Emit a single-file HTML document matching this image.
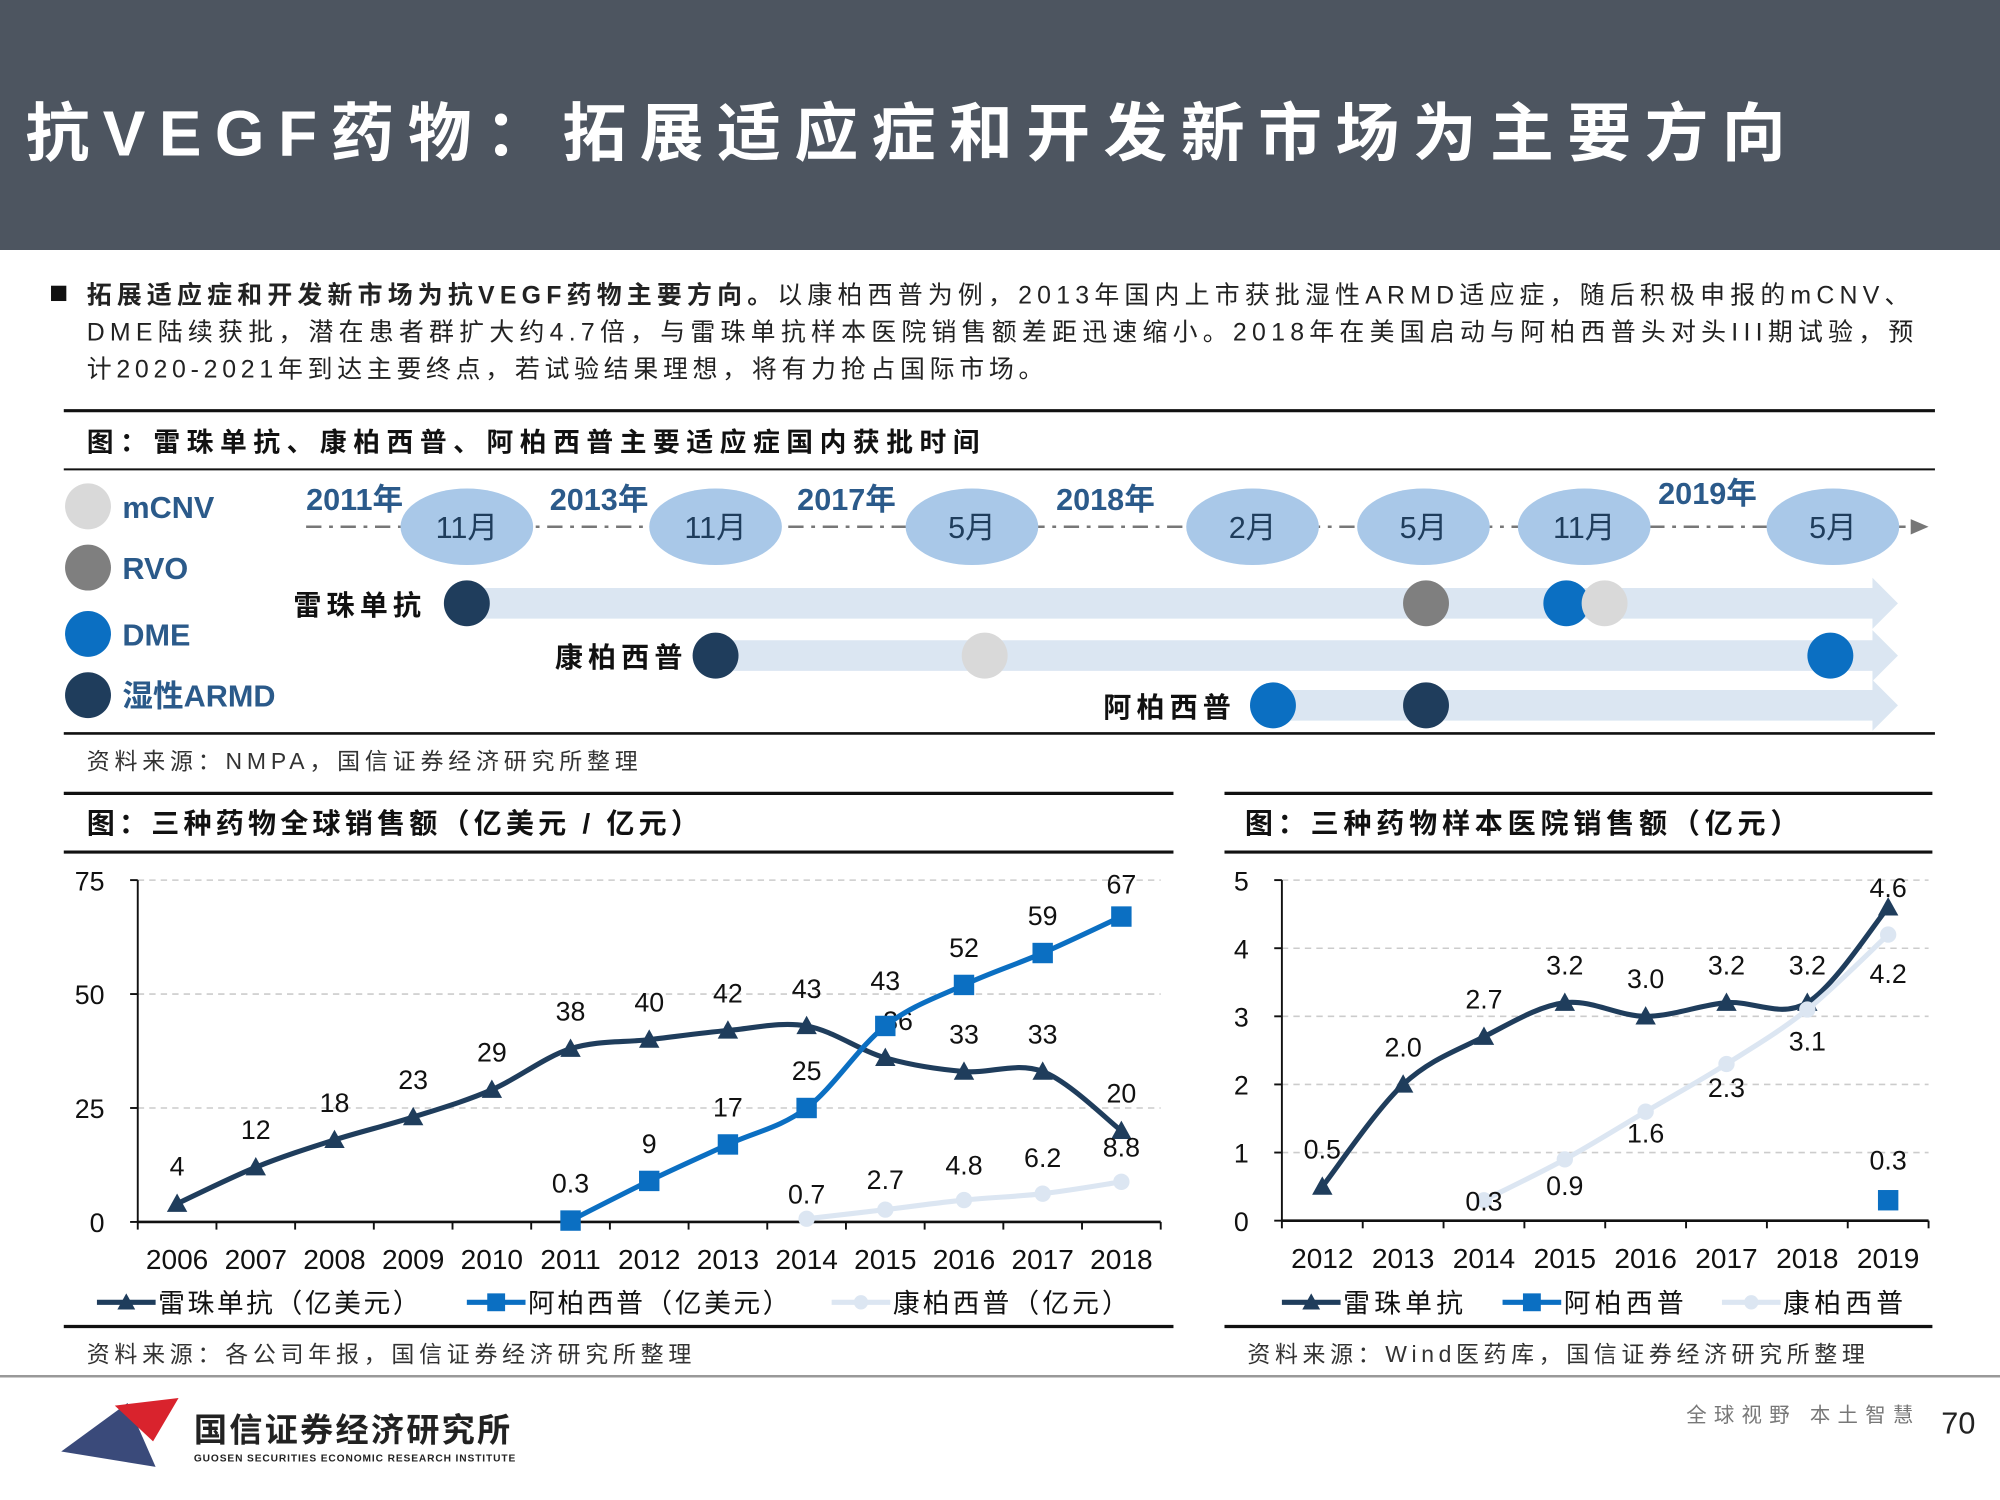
<!DOCTYPE html>
<html><head><meta charset="utf-8"><style>
html,body{margin:0;padding:0;background:#fff}
svg{display:block}
text{font-family:"Liberation Sans","Noto Sans CJK SC",sans-serif}
</style></head><body>
<svg id="root" width="2000" height="1500" viewBox="0 0 1568 1176" xmlns="http://www.w3.org/2000/svg">
<rect x="0" y="0" width="1568" height="196" fill="#4d5560"/>
<text x="20" y="122" font-size="50" font-weight="bold" fill="#fff" textLength="1380" lengthAdjust="spacing">抗VEGF药物：拓展适应症和开发新市场为主要方向</text>
<rect x="40" y="224" width="12" height="12" fill="#111"/>
<g font-size="19.5" fill="#222">
<text x="68" y="238" textLength="1429" lengthAdjust="spacing"><tspan font-weight="bold">拓展适应症和开发新市场为抗VEGF药物主要方向。</tspan>以康柏西普为例，2013年国内上市获批湿性ARMD适应症，随后积极申报的mCNV、</text>
<text x="68" y="267" textLength="1432" lengthAdjust="spacing">DME陆续获批，潜在患者群扩大约4.7倍，与雷珠单抗样本医院销售额差距迅速缩小。2018年在美国启动与阿柏西普头对头III期试验，预</text>
<text x="68" y="296" textLength="750" lengthAdjust="spacing">计2020-2021年到达主要终点，若试验结果理想，将有力抢占国际市场。</text>
</g>
<!-- timeline -->
<line x1="50" y1="322" x2="1517" y2="322" stroke="#111" stroke-width="2.5"/>
<text x="68" y="354" font-size="21" font-weight="bold" fill="#111" textLength="700" lengthAdjust="spacing">图：雷珠单抗、康柏西普、阿柏西普主要适应症国内获批时间</text>
<line x1="50" y1="368" x2="1517" y2="368" stroke="#111" stroke-width="1.5"/>
<line x1="240" y1="413" x2="1500" y2="413" stroke="#777" stroke-width="2" stroke-dasharray="12,6,3,6"/>
<polygon points="1498,407 1512,413 1498,419" fill="#777"/>
<g id="tl" font-weight="bold" fill="#2b5a8a" font-size="24"></g>
<line x1="50" y1="575" x2="1517" y2="575" stroke="#111" stroke-width="2"/>
<text x="68" y="603" font-size="18" fill="#333" textLength="432" lengthAdjust="spacing">资料来源：NMPA，国信证券经济研究所整理</text>
<!-- chart frames -->
<line x1="50" y1="622" x2="920" y2="622" stroke="#111" stroke-width="2.5"/>
<line x1="50" y1="668" x2="920" y2="668" stroke="#111" stroke-width="2.5"/>
<line x1="50" y1="1040" x2="920" y2="1040" stroke="#111" stroke-width="2.5"/>
<text x="68" y="653" font-size="22" font-weight="bold" fill="#111" textLength="480" lengthAdjust="spacing">图：三种药物全球销售额（亿美元 / 亿元）</text>
<text x="68" y="1068" font-size="18" fill="#333" textLength="474" lengthAdjust="spacing">资料来源：各公司年报，国信证券经济研究所整理</text>
<line x1="960" y1="622" x2="1515" y2="622" stroke="#111" stroke-width="2.5"/>
<line x1="960" y1="668" x2="1515" y2="668" stroke="#111" stroke-width="2.5"/>
<line x1="960" y1="1040" x2="1515" y2="1040" stroke="#111" stroke-width="2.5"/>
<text x="976" y="653" font-size="22" font-weight="bold" fill="#111" textLength="434" lengthAdjust="spacing">图：三种药物样本医院销售额（亿元）</text>
<text x="978" y="1068" font-size="18" fill="#333" textLength="484" lengthAdjust="spacing">资料来源：Wind医药库，国信证券经济研究所整理</text>
<g id="c1"></g><g id="c2"></g>
<!-- footer -->
<line x1="0" y1="1079" x2="1568" y2="1079" stroke="#999" stroke-width="2"/>
<g>
<polygon points="48,1138 100,1100 122,1150" fill="#3a4a7a"/>
<polygon points="90,1102 140,1096 120,1130" fill="#d9232d"/>
<text x="152" y="1130" font-size="26" font-weight="bold" fill="#222" textLength="248" lengthAdjust="spacing">国信证券经济研究所</text>
<text x="152" y="1146" font-size="8" font-weight="bold" fill="#222" textLength="252" lengthAdjust="spacing">GUOSEN SECURITIES ECONOMIC RESEARCH INSTITUTE</text>
</g>
<text x="1322" y="1115" font-size="16" fill="#777" textLength="178" lengthAdjust="spacing">全球视野  本土智慧</text>
<text x="1522" y="1124" font-size="24" fill="#222">70</text>
</svg>
<script>
const NS="http://www.w3.org/2000/svg";
function mk(parent,tag,attrs,txt){const e=document.createElementNS(NS,tag);for(const k in attrs)e.setAttribute(k,attrs[k]);if(txt!==undefined)e.textContent=txt;parent.appendChild(e);return e;}

// ---------- timeline ----------
const tl=document.getElementById('tl');
const legendNames=['mCNV','RVO','DME','湿性ARMD'];
const legendColors=['#d9d9d9','#7f7f7f','#0b6fc2','#1f3d5c'];
legendNames.forEach((n,i)=>{const y=[397,445,497,545][i];
 const c=mk(tl,'circle',{cx:69,cy:y,r:18,fill:legendColors[i]});
 
 
 const t=mk(tl,'text',{x:96,y:y+9},n);
 
 });
const months=['11月','11月','5月','2月','5月','11月','5月'];
const monthX=[366,561,762,982,1116,1242,1437];
months.forEach((m,i)=>{const e=mk(tl,'ellipse',{cx:monthX[i],cy:413,rx:52,ry:30,fill:'#a9c8e8'});
 
 
 const t=mk(tl,'text',{x:monthX[i],y:422,'text-anchor':'middle','font-weight':'normal',fill:'#1f3d5c'},m);
 
 });
const years=['2011年','2013年','2017年','2018年','2019年'];
const yearX=[240,431,625,828,1300];
years.forEach((y,i)=>{const t=mk(tl,'text',{x:yearX[i],y:[400,400,400,400,395][i]},y);
 
 });
const rows=[{n:'雷珠单抗',lx:230,y:473,x0:366,dots:[[366,3],[1118,1],[1228,2],[1258,0]]},
 {n:'康柏西普',lx:435,y:514,x0:561,dots:[[561,3],[772,0],[1435,2]]},
 {n:'阿柏西普',lx:865,y:553,x0:998,dots:[[998,2],[1118,3]]}];
rows.forEach(r=>{
 const b=mk(tl,'polygon',{points:`${r.x0},${r.y-12} 1468,${r.y-12} 1468,${r.y-20} 1488,${r.y} 1468,${r.y+20} 1468,${r.y+12} ${r.x0},${r.y+12}`,fill:'#dbe6f2'});
 
 
 const t=mk(tl,'text',{x:r.lx,y:r.y+9,fill:'#111','font-size':22,textLength:100,lengthAdjust:'spacing'},r.n);
 
 
 r.dots.forEach(d=>{const c=mk(tl,'circle',{cx:d[0],cy:r.y,r:18,fill:legendColors[d[1]]});
  
  });
});

// ---------- chart data ----------
const years1=['2006','2007','2008','2009','2010','2011','2012','2013','2014','2015','2016','2017','2018'];
const ranibizumab1=[4,12,18,23,29,38,40,42,43,36,33,33,20];
const ranibizumab1Labels=['4','12','18','23','29','38','40','42','43','36','33','33','20'];
const aflibercept1=[null,null,null,null,null,0.3,9,17,25,43,52,59,67];
const aflibercept1Labels=['','','','','','0.3','9','17','25','43','52','59','67'];
const conbercept1=[null,null,null,null,null,null,null,null,0.7,2.7,4.8,6.2,8.8];
const conbercept1Labels=['','','','','','','','','0.7','2.7','4.8','6.2','8.8'];
const ticks1=[0,25,50,75];

const years2=['2012','2013','2014','2015','2016','2017','2018','2019'];
const ranibizumab2=[0.5,2.0,2.7,3.2,3.0,3.2,3.2,4.6];
const ranibizumab2Labels=['0.5','2.0','2.7','3.2','3.0','3.2','3.2','4.6'];
const aflibercept2=[null,null,null,null,null,null,null,0.3];
const aflibercept2Labels=['','','','','','','','0.3'];
const conbercept2=[null,null,0.3,0.9,1.6,2.3,3.1,4.2];
const conbercept2Labels=['','','0.3','0.9','1.6','2.3','3.1','4.2'];
const ticks2=[0,1,2,3,4,5];

const NAVY='#1f3d5c',BLUE='#0b6fc2',LIGHT='#dce6f2';

function smooth(pts){
 if(pts.length<2)return '';
 let d=`M${pts[0][0]},${pts[0][1]}`;
 for(let i=0;i<pts.length-1;i++){
  const p0=pts[i-1]||pts[i],p1=pts[i],p2=pts[i+1],p3=pts[i+2]||p2;
  const c1=[p1[0]+(p2[0]-p0[0])/6,p1[1]+(p2[1]-p0[1])/6];
  const c2=[p2[0]-(p3[0]-p1[0])/6,p2[1]-(p3[1]-p1[1])/6];
  d+=` C${c1[0]},${c1[1]} ${c2[0]},${c2[1]} ${p2[0]},${p2[1]}`;
 }
 return d;
}
function marker(g,type,x,y,color,s){
 let e;
 if(type==='tri')e=mk(g,'polygon',{points:`${x},${y-s} ${x-s},${y+s*0.8} ${x+s},${y+s*0.8}`,fill:color});
 else if(type==='sq')e=mk(g,'rect',{x:x-s,y:y-s,width:2*s,height:2*s,fill:color});
 else e=mk(g,'circle',{cx:x,cy:y,r:s*0.8,fill:color});
 
 
}

function chart(gid,cfg){
 const g=document.getElementById(gid);
 const n=cfg.cats.length,bw=(cfg.x1-cfg.x0)/n;
 const X=i=>cfg.x0+bw*(i+0.5);
 const Y=v=>cfg.y0-(v-cfg.min)/(cfg.max-cfg.min)*(cfg.y0-cfg.yTop);
 cfg.ticks.forEach(t=>{
  if(t>cfg.min){const l=mk(g,'line',{x1:cfg.x0,x2:cfg.x1,y1:Y(t),y2:Y(t),stroke:'#ccc','stroke-width':1.2,'stroke-dasharray':'5,4'});
   
   }
  mk(g,'line',{x1:cfg.x0-6,x2:cfg.x0,y1:Y(t),y2:Y(t),stroke:'#111','stroke-width':1.5});
  const tx=mk(g,'text',{x:cfg.x0-26,y:Y(t)+8,'font-size':21,fill:'#111','text-anchor':'end'},String(t));
  
  
 });
 const ya=mk(g,'line',{x1:cfg.x0,x2:cfg.x0,y1:cfg.yTop,y2:cfg.y0,stroke:'#111','stroke-width':1.5});
 
 
 const xa=mk(g,'line',{x1:cfg.x0,x2:cfg.x1,y1:cfg.y0,y2:cfg.y0,stroke:'#111','stroke-width':2});
 
 
 for(let i=0;i<=n;i++)mk(g,'line',{x1:cfg.x0+bw*i,x2:cfg.x0+bw*i,y1:cfg.y0,y2:cfg.y0+6,stroke:'#111','stroke-width':1.5});
 cfg.cats.forEach((c,i)=>{const t=mk(g,'text',{x:X(i),y:cfg.y0+37,'font-size':22,fill:'#111','text-anchor':'middle'},c);
  
  });
 cfg.series.forEach(s=>{
  const pts=[];s.vals.forEach((v,i)=>{if(v!==null)pts.push([X(i),Y(v),i]);});
  if(pts.length>1){const p=mk(g,'path',{d:smooth(pts),fill:'none',stroke:s.color,'stroke-width':4});
   
   }
  pts.forEach(p=>marker(g,s.mark,p[0],p[1],s.color,8));
  pts.forEach(p=>{const dx=(s.dx&&s.dx[p[2]])||0;const t=mk(g,'text',{x:X(p[2])+dx,y:p[1]+s.dy[p[2]],'font-size':21,fill:'#111','text-anchor':'middle'},s.labels[p[2]]);
   
   });
 });
 cfg.legend.forEach(L=>{
  const lg=mk(g,'g',{});
  
  
  mk(lg,'line',{x1:L.x,x2:L.x+46,y1:cfg.ly,y2:cfg.ly,stroke:L.color,'stroke-width':4});
  marker(lg,L.mark,L.x+23,cfg.ly,L.color,7);
  mk(lg,'text',{x:L.x+48,y:cfg.ly+8,'font-size':21,fill:'#111',textLength:L.w,lengthAdjust:'spacing'},L.text);
 });
}
const n1=years1.length;
chart('c1',{cats:years1,x0:108,x1:910,y0:958,yTop:690,min:0,max:75,ticks:ticks1,ly:1021,
 series:[
  {name:'ranibizumab',vals:ranibizumab1,labels:ranibizumab1Labels,color:NAVY,mark:'tri',dy:Array(n1).fill(-22),dx:[0,0,0,0,0,0,0,0,0,10,0,0,0]},
  {name:'aflibercept',vals:aflibercept1,labels:aflibercept1Labels,color:BLUE,mark:'sq',dy:[0,0,0,0,0,-22,-22,-22,-22,-28,-22,-22,-18]},
  {name:'conbercept',vals:conbercept1,labels:conbercept1Labels,color:LIGHT,mark:'dot',dy:[0,0,0,0,0,0,0,0,-12,-16,-20,-21,-20]}],
 legend:[{x:76,color:NAVY,mark:'tri',text:'雷珠单抗（亿美元）',w:205},{x:366,color:BLUE,mark:'sq',text:'阿柏西普（亿美元）',w:205},{x:652,color:LIGHT,mark:'dot',text:'康柏西普（亿元）',w:185}]});
chart('c2',{cats:years2,x0:1005,x1:1512,y0:957,yTop:690,min:0,max:5,ticks:ticks2,ly:1021,
 series:[
  {name:'ranibizumab',vals:ranibizumab2,labels:ranibizumab2Labels,color:NAVY,mark:'tri',dy:[-22,-22,-22,-22,-22,-22,-22,-8]},
  {name:'conbercept',vals:conbercept2,labels:conbercept2Labels,color:LIGHT,mark:'dot',dy:[0,0,8,28,24,26,32,38]},
  {name:'aflibercept',vals:aflibercept2,labels:aflibercept2Labels,color:BLUE,mark:'sq',dy:[0,0,0,0,0,0,0,-24]}],
 legend:[{x:1005,color:NAVY,mark:'tri',text:'雷珠单抗',w:94},{x:1178,color:BLUE,mark:'sq',text:'阿柏西普',w:94},{x:1350,color:LIGHT,mark:'dot',text:'康柏西普',w:94}]});
</script>
</body></html>
